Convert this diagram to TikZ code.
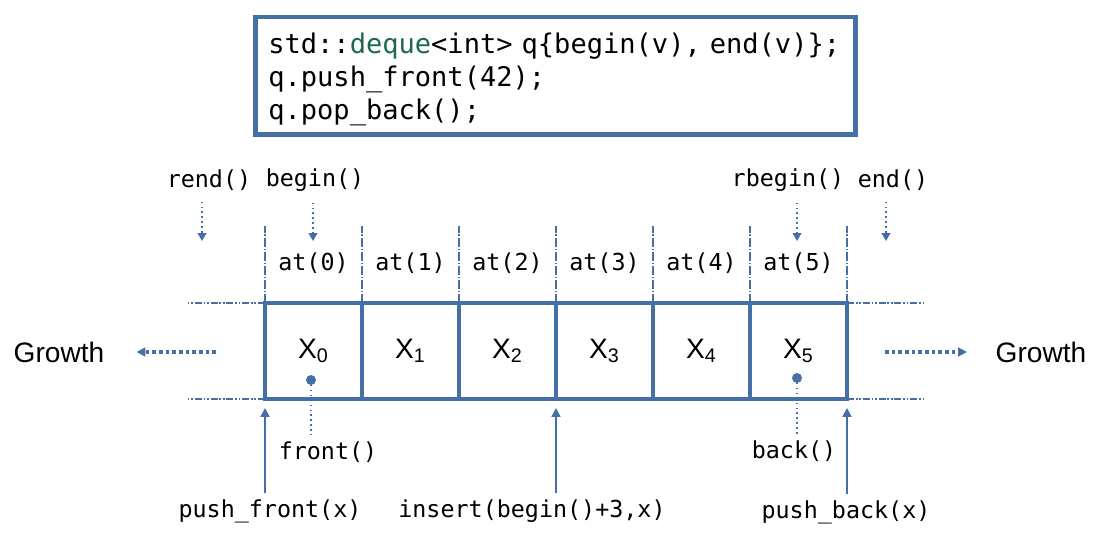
\documentclass[tikz,border=0pt]{standalone}
\usepackage{fontspec}
\setmainfont{Liberation Sans}
\setmonofont{DejaVu Sans Mono}
\usepackage{tikz}
\usetikzlibrary{positioning,arrows.meta}
\definecolor{dqblue}{RGB}{68,112,166}
\definecolor{dqgreen}{RGB}{30,105,78}

\begin{document}
\begin{tikzpicture}[
    x=0.02cm, y=-0.02cm,
    >={Triangle[length=5pt,width=5pt]},
    font=\fontsize{13.3pt}{15pt}\selectfont\ttfamily,
    cell/.style={draw=dqblue, line width=2.3pt, outer sep=0pt, inner sep=0pt,
                 minimum width=1.94cm, minimum height=1.92cm,
                 font=\fontsize{16pt}{18pt}\selectfont\rmfamily},
    codebox/.style={draw=dqblue, line width=2.8pt, inner sep=0pt, align=left,
                 minimum width=12.01cm, minimum height=2.35cm, text width=11.5cm,
                 text height=16pt, font=\fontsize{15.4pt}{19pt}\selectfont\ttfamily},
    grw/.style={font=\fontsize{16pt}{18pt}\selectfont\rmfamily},
    sep/.style={dqblue, line width=1.1pt, dash pattern=on 5pt off 1pt on 1pt off 1pt},
    ext/.style={dqblue, line width=1.1pt, dash pattern=on 4pt off 1pt on 1pt off 1pt on 1pt off 1pt},
    growarrow/.style={->, dqblue, line width=2pt, dash pattern=on 2pt off 1.8pt},
    ptr/.style={->, dqblue, line width=0.8pt, dotted, >={Triangle[length=4.5pt,width=5pt]}},
    lead/.style={dqblue, line width=0.8pt, dotted},
    push/.style={->, dqblue, line width=1.1pt},
    dot/.style={circle, fill=dqblue, inner sep=0pt, minimum size=0.2cm},
  ]
    \useasboundingbox (0,0) rectangle (1108,543);

    % ---------- code ----------
    \node[codebox] (code) at (555.75,75.75)
      {std::\textcolor{dqgreen}{deque}<int> q\{begin(v), end(v)\};\\
       q.push\_front(42);\\
       q.pop\_back();};

    % ---------- cells ----------
    \foreach \i in {0,...,5} {
      \node[cell] (c\i) at ({313.5+97*\i},351) {X\textsubscript{\i}};
      \node (a\i) at ({313.5+97*\i},263) {at(\i)};
      \draw[sep] (c\i.north west) -- ++(0,-77);
    }
    \draw[sep] (c5.north east) -- ++(0,-77);
    \draw[ext] (c0.north west) -- ++(-78,0);
    \draw[ext] (c0.south west) -- ++(-78,0);
    \draw[ext] (c5.north east) -- ++(78,0);
    \draw[ext] (c5.south east) -- ++(78,0);

    % ---------- growth ----------
    \node[grw] (gl) at (59,352) {Growth};
    \node[grw] (gr) at (1041,352) {Growth};
    \coordinate (gla) at (216,352);
    \coordinate (gra) at (885,352);
    \draw[growarrow, shorten >=0.52cm] (gla) -- (gl);
    \draw[growarrow, shorten >=0.45cm] (gra) -- (gr);

    % ---------- iterators ----------
    \node (lrend)   at (209,180) {rend()};
    \node (lbegin)  at (315,180) {begin()};
    \node (lrbegin) at (788,180) {rbegin()};
    \node (lend)    at (893,180) {end()};
    \foreach \n/\x in {lrend/202, lbegin/313, lrbegin/797, lend/886} {
      \coordinate (\n-tip) at (\x,241);
      \draw[ptr, shorten <=0.1cm] (\n.south -| \n-tip) -- (\n-tip);
    }

    % ---------- access ----------
    \node[dot] (d0) at (311,380) {};
    \node[dot] (d5) at (797,378) {};
    \node (lfront) at (328,452) {front()};
    \node (lback)  at (794,451) {back()};
    \draw[lead] (d0.center) -- (d0 |- lfront.north);
    \draw[lead] (d5.center) -- (d5 |- lback.north);

    % ---------- insertion ----------
    \node (lpf)  at (270,511) {push\_front(x)};
    \node (lins) at (532,511) {insert(begin()+3,x)};
    \node (lpb)  at (846,512) {push\_back(x)};
    \draw[push, shorten >=0.18cm] (lpf.north -| c0.south west) -- (c0.south west);
    \draw[push, shorten >=0.18cm] (lins.north -| c3.south west) -- (c3.south west);
    \draw[push, shorten >=0.18cm] (lpb.north -| c5.south east) -- (c5.south east);
  \end{tikzpicture}
\end{document}
